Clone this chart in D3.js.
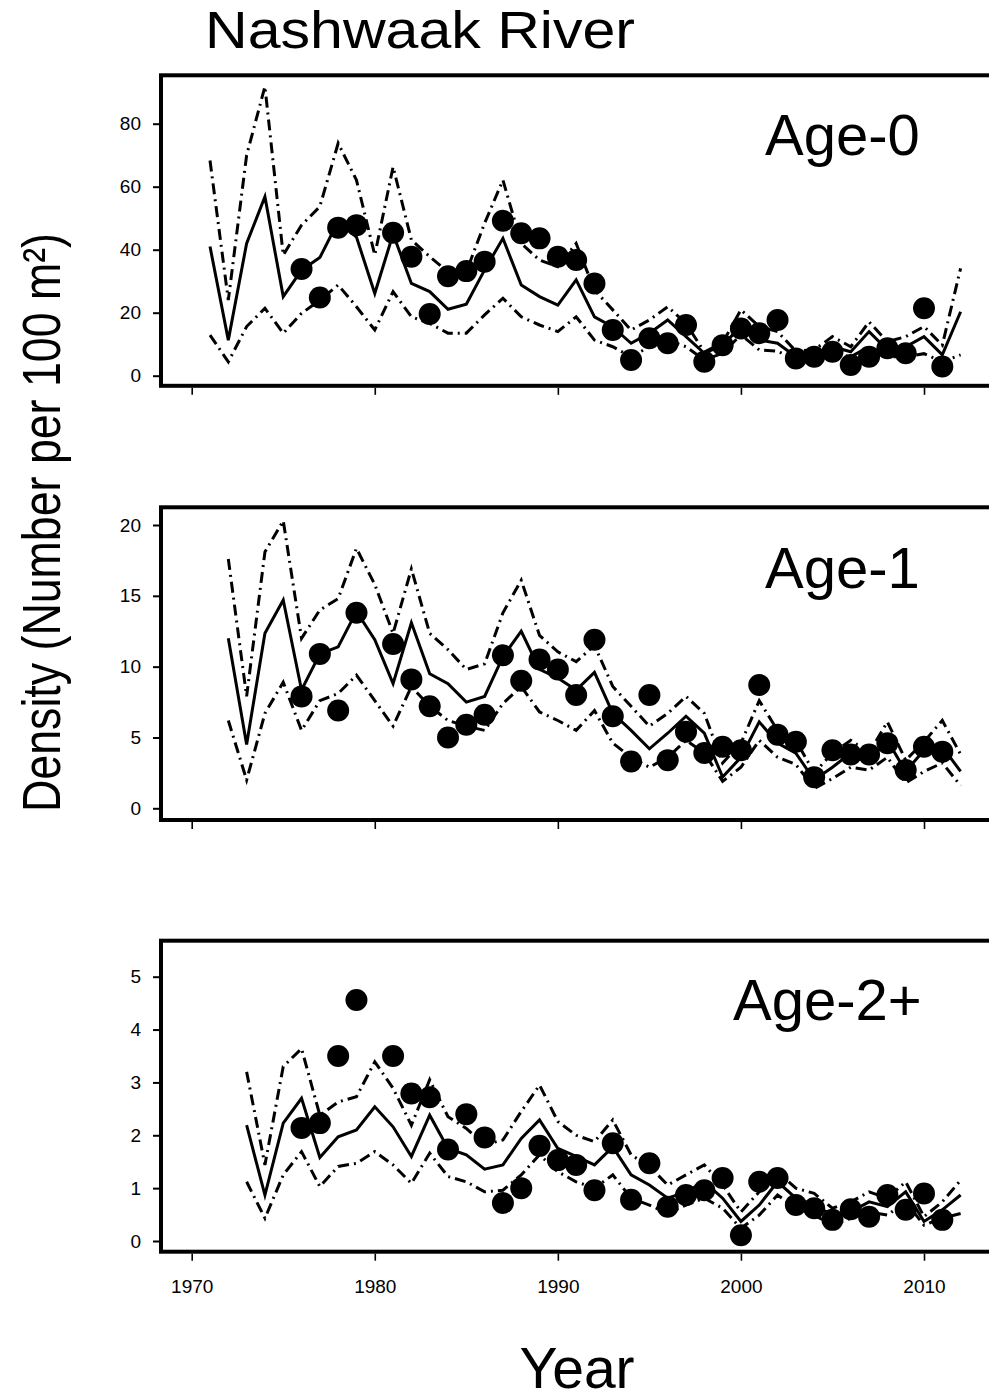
<!DOCTYPE html>
<html>
<head>
<meta charset="utf-8">
<script src="https://cdn.jsdelivr.net/npm/d3@7"></script>
<style>
  html, body { margin: 0; padding: 0; background: #fff; }
  svg { display: block; }
  text { font-family: "Liberation Sans", Arial, sans-serif; fill: #000; }
</style>
</head>
<body>
<svg id="chart" width="989" height="1399"></svg>
<script>
// ---------------- DATA ----------------
const xTicks = [1970, 1980, 1990, 2000, 2010];
const pointYears = [1976,1977,1978,1979,1981,1982,1983,1984,1985,1986,1987,1988,1989,1990,1991,1992,1993,1994,1995,1996,1997,1998,1999,2000,2001,2002,2003,2004,2005,2006,2007,2008,2009,2010,2011];

// Age-0 (lines 1971-2012)
const age0Start = 1971;
const age0Fit   = [41.0,11.3,42.0,56.8,25.1,33.5,37.5,49.0,44.0,26.1,45.0,29.3,26.7,21.1,22.7,33.6,43.6,28.8,25.1,22.4,30.4,18.7,15.5,10.3,13.5,17.7,12.4,7.1,9.7,15.6,11.3,10.3,6.0,6.0,9.2,7.6,14.0,8.2,9.2,12.4,6.6,20.3];
const age0Upper = [68.3,24.0,70.0,91.8,38.3,47.8,53.7,73.8,62.1,38.3,66.3,43.1,37.8,33.0,33.0,48.4,62.1,42.0,36.7,34.6,42.0,27.2,20.9,14.5,17.7,21.9,16.6,7.5,10.5,20.9,15.6,14.0,7.8,8.2,12.4,9.2,17.1,10.8,12.4,15.6,9.7,34.1];
const age0Lower = [12.9,4.4,15.6,21.4,13.5,19.8,24.0,28.8,21.9,14.5,26.7,18.7,16.6,13.5,13.5,19.3,24.6,18.7,16.1,14.0,18.7,11.3,9.2,6.0,9.2,11.3,9.2,5.0,7.1,13.0,8.2,7.8,5.0,5.0,7.1,6.0,9.2,6.0,6.0,7.0,4.4,6.6];
const age0Obs   = [33.9,24.8,47.0,47.8,45.4,37.8,19.6,31.6,33.2,36.2,49.2,45.2,43.6,37.8,36.7,29.3,14.5,5.0,11.9,10.3,16.1,4.4,9.7,15.0,13.5,17.7,5.5,6.0,7.6,3.4,6.0,8.7,7.1,21.4,2.9];
const age0Ticks = [0, 20, 40, 60, 80];

// Age-1 (lines 1972-2012)
const age1Start = 1972;
const age1Fit   = [12.0,4.5,12.35,14.7,8.35,10.9,11.4,13.9,11.9,8.8,13.1,9.5,8.8,7.5,7.9,10.7,12.5,9.8,9.2,8.35,9.6,6.7,5.5,4.2,5.3,6.5,5.3,2.2,3.6,6.1,4.6,3.9,2.0,2.9,3.9,3.4,4.8,2.6,4.1,4.35,2.6];
const age1Upper = [17.6,7.9,18.1,20.3,12.0,14.0,14.8,18.35,15.8,12.35,16.9,12.35,11.2,9.8,10.2,13.8,16.1,12.2,11.05,10.35,11.5,8.6,7.2,5.8,6.7,7.9,6.7,3.2,4.6,7.6,5.5,4.8,2.5,3.9,4.8,3.9,6.1,3.4,4.7,6.2,3.8];
const age1Lower = [6.2,2.0,6.7,8.9,5.5,7.6,8.1,9.4,7.6,5.8,8.6,7.2,6.2,5.8,5.5,7.4,8.6,6.8,6.2,5.5,6.9,4.6,3.6,2.9,3.6,4.8,3.9,1.9,2.9,4.8,3.6,3.1,1.4,2.1,2.9,2.7,3.6,1.8,2.6,3.2,1.6];
const age1Obs   = [7.9,10.9,6.9,13.8,11.6,9.1,7.2,5.0,5.9,6.6,10.8,9.0,10.5,9.8,8.0,11.9,6.5,3.3,8.0,3.4,5.4,3.9,4.35,4.1,8.7,5.2,4.7,2.2,4.1,3.8,3.8,4.6,2.7,4.35,4.0];
const age1Ticks = [0, 5, 10, 15, 20];

// Age-2+ (lines 1973-2012)
const age2Start = 1973;
const age2Fit   = [2.19,0.87,2.23,2.7,1.58,1.97,2.1,2.54,2.16,1.6,2.38,1.75,1.63,1.36,1.44,1.94,2.29,1.75,1.6,1.44,1.78,1.25,1.06,0.81,0.93,1.12,0.81,0.37,0.68,1.12,0.81,0.68,0.49,0.55,0.74,0.65,0.93,0.37,0.59,0.87];
const age2Upper = [3.2,1.44,3.3,3.64,2.38,2.63,2.73,3.39,2.89,2.19,3.05,2.35,2.13,1.82,1.91,2.45,2.95,2.26,2.0,1.88,2.29,1.63,1.41,1.06,1.25,1.44,1.06,0.55,0.93,1.31,1.0,0.9,0.62,0.74,0.93,0.81,1.12,0.46,0.74,1.15];
const age2Lower = [1.12,0.43,1.25,1.69,1.03,1.41,1.47,1.69,1.44,1.09,1.66,1.22,1.12,0.93,0.96,1.25,1.63,1.31,1.12,1.0,1.25,0.81,0.68,0.52,0.68,0.81,0.62,0.24,0.49,0.87,0.62,0.49,0.3,0.43,0.55,0.49,0.74,0.3,0.43,0.52];
const age2Obs   = [2.14,2.23,3.5,4.56,3.5,2.79,2.72,1.73,2.4,1.96,0.72,1.0,1.8,1.53,1.44,0.96,1.85,0.78,1.47,0.65,0.87,0.96,1.19,0.11,1.12,1.19,0.68,0.62,0.4,0.6,0.46,0.87,0.59,0.9,0.4];
const age2Ticks = [0, 1, 2, 3, 4, 5];

const titleText = "Nashwaak River";
const yLabelText = "Density (Number per 100 m²)";
const xLabelText = "Year";
const panelLabels = ["Age-0", "Age-1", "Age-2+"];

// ---------------- LAYOUT ----------------
const svg = d3.select("#chart");
const frameLeft = 161, frameRight = 1000;
const x = d3.scaleLinear().domain([1970, 2010]).range([191.7, 924]);

const panels = [
  { label: panelLabels[0], start: age0Start, fit: age0Fit, upper: age0Upper, lower: age0Lower, obs: age0Obs, ticks: age0Ticks,
    yDomain: [0, 80], yRange: [375.7, 123.7], top: 75.3, bottom: 385.8, labelX: 765, labelY: 155, showX: false },
  { label: panelLabels[1], start: age1Start, fit: age1Fit, upper: age1Upper, lower: age1Lower, obs: age1Obs, ticks: age1Ticks,
    yDomain: [0, 20], yRange: [808.3, 525], top: 507.3, bottom: 820, labelX: 765, labelY: 588, showX: false },
  { label: panelLabels[2], start: age2Start, fit: age2Fit, upper: age2Upper, lower: age2Lower, obs: age2Obs, ticks: age2Ticks,
    yDomain: [0, 5], yRange: [1241, 976.7], top: 940.7, bottom: 1251.7, labelX: 733, labelY: 1020, showX: true }
];

panels.forEach(p => {
  const y = d3.scaleLinear().domain(p.yDomain).range(p.yRange);
  const g = svg.append("g");

  const toPts = arr => arr.map((v, i) => [p.start + i, v]);
  const line = d3.line().x(d => x(d[0])).y(d => y(d[1]));

  [p.upper, p.lower].forEach(arr => {
    g.append("path").attr("d", line(toPts(arr)))
      .attr("fill", "none").attr("stroke", "#000").attr("stroke-width", 3)
      .attr("stroke-dasharray", "11,5,2,5");
  });
  g.append("path").attr("d", line(toPts(p.fit)))
    .attr("fill", "none").attr("stroke", "#000").attr("stroke-width", 3)
    .attr("stroke-linejoin", "miter");

  g.selectAll("circle.obs").data(p.obs.map((v, i) => [pointYears[i], v]))
    .enter().append("circle").attr("class", "obs")
    .attr("cx", d => x(d[0])).attr("cy", d => y(d[1])).attr("r", 11).attr("fill", "#000");

  g.append("rect").attr("x", frameLeft).attr("y", p.top)
    .attr("width", frameRight - frameLeft).attr("height", p.bottom - p.top)
    .attr("fill", "none").attr("stroke", "#000").attr("stroke-width", 4);

  const ya = g.append("g").attr("transform", `translate(${frameLeft - 1},0)`)
    .call(d3.axisLeft(y).tickValues(p.ticks).tickSize(7).tickPadding(12).tickFormat(d3.format("d")));
  ya.select(".domain").remove();
  ya.selectAll(".tick line").attr("stroke", "#000").attr("stroke-width", 2);
  ya.selectAll(".tick text").style("font-size", "19px").style("font-family", "'Liberation Sans', Arial, sans-serif");

  const xa = g.append("g").attr("transform", `translate(0,${p.bottom + 2})`)
    .call(d3.axisBottom(x).tickValues(xTicks).tickSize(7).tickPadding(18.5).tickFormat(d3.format("d")));
  xa.select(".domain").remove();
  xa.selectAll(".tick line").attr("stroke", "#000").attr("stroke-width", 1.6);
  xa.selectAll(".tick text").style("font-size", "19px").style("font-family", "'Liberation Sans', Arial, sans-serif");
  if (!p.showX) xa.selectAll(".tick text").remove();

  g.append("text").attr("x", p.labelX).attr("y", p.labelY)
    .style("font-size", "58px").text(p.label);
});

svg.append("text").attr("x", 205).attr("y", 48.3)
  .attr("textLength", 430).attr("lengthAdjust", "spacingAndGlyphs")
  .style("font-size", "51px").text(titleText);

svg.append("text").attr("transform", "translate(60,522.5) rotate(-90)")
  .attr("text-anchor", "middle")
  .attr("textLength", 579).attr("lengthAdjust", "spacingAndGlyphs")
  .style("font-size", "53px").text(yLabelText);

svg.append("text").attr("x", 577).attr("y", 1388)
  .attr("text-anchor", "middle")
  .style("font-size", "57px").text(xLabelText);
</script>
</body>
</html>
